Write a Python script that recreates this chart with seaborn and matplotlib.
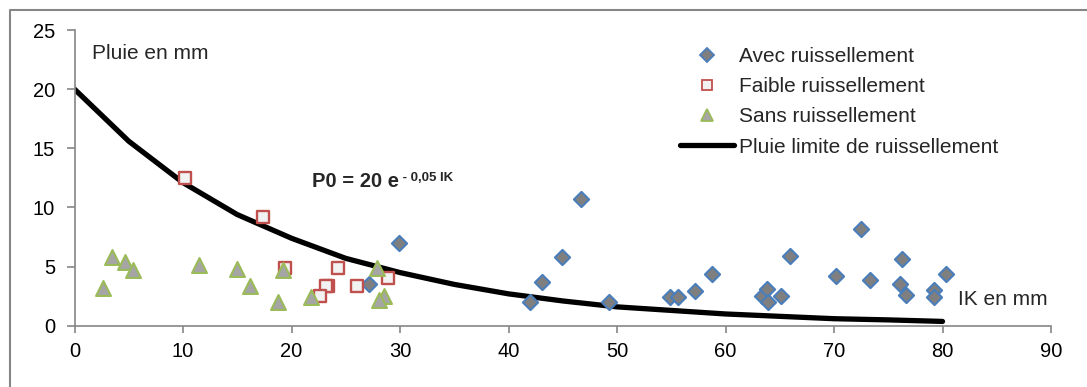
import matplotlib
matplotlib.use("Agg")
import matplotlib.pyplot as plt
from matplotlib.lines import Line2D
import numpy as np
import pandas as pd
import seaborn as sns

# --- data ---
avec_ik = [27.1, 29.9, 42.0, 43.1, 44.9, 46.7, 49.3, 54.9, 55.6, 57.2, 58.8,
           63.4, 63.8, 63.9, 65.1, 65.9, 70.2, 72.5, 73.3, 76.3, 76.1, 76.6,
           79.2, 79.2, 80.3]
avec_pluie = [3.5, 7.0, 2.0, 3.7, 5.8, 10.7, 2.0, 2.4, 2.4, 2.9, 4.4,
              2.5, 3.1, 2.0, 2.5, 5.9, 4.2, 8.2, 3.9, 5.65, 3.5, 2.6,
              3.0, 2.4, 4.4]

faible_ik = [10.2, 17.4, 19.4, 24.3, 23.4, 23.2, 22.6, 26.0, 28.9]
faible_pluie = [12.5, 9.2, 4.9, 4.9, 3.4, 3.4, 2.5, 3.4, 4.0]

sans_ik = [2.6, 3.5, 4.7, 5.4, 11.5, 15.0, 16.2, 19.2, 18.8, 21.8, 27.9, 28.5, 28.1]
sans_pluie = [3.2, 5.8, 5.4, 4.7, 5.1, 4.8, 3.4, 4.7, 2.0, 2.4, 4.9, 2.5, 2.2]

limite_ik = [0, 5, 10, 15, 20, 25, 30, 35, 40, 45, 50, 55, 60, 65, 70, 75, 80]
limite_pluie = [20.0, 15.6, 12.1, 9.4, 7.4, 5.7, 4.5, 3.5, 2.7, 2.1, 1.6,
                1.3, 1.0, 0.8, 0.6, 0.5, 0.37]

labels = ["Avec ruissellement", "Faible ruissellement", "Sans ruissellement",
          "Pluie limite de ruissellement"]

# --- style ---
sns.set_style("ticks")
plt.rcParams['font.family'] = ['Liberation Sans', 'DejaVu Sans']
grey = "#868686"

W, H = 1087, 387
fig = plt.figure(figsize=(W / 100, H / 100), dpi=100)
ax = fig.add_axes([74.5 / W, 61.2 / H, (1051 - 74.5) / W, (325.8 - 30) / H])

df_lim = pd.DataFrame({"ik": limite_ik, "p": limite_pluie})
sns.lineplot(data=df_lim, x="ik", y="p", color="black", linewidth=3.8,
             ax=ax, zorder=2, solid_capstyle="round")

sns.scatterplot(x=avec_ik, y=avec_pluie, marker="D", s=60, color="#7f7f7f",
                edgecolor="#4a7ebb", linewidth=1.5, ax=ax, zorder=3)
sns.scatterplot(x=faible_ik, y=faible_pluie, marker="s", s=70, color="#f2f2f2",
                edgecolor="#c0504d", linewidth=1.7, ax=ax, zorder=3)
sns.scatterplot(x=sans_ik, y=sans_pluie, marker="^", s=115, color="#a5a5a5",
                edgecolor="#9bbb59", linewidth=1.5, ax=ax, zorder=3)

ax.set_xlim(0, 90)
ax.set_ylim(0, 25)
ax.set_xticks(range(0, 91, 10))
ax.set_yticks(range(0, 26, 5))
ax.set_xlabel("")
ax.set_ylabel("")
sns.despine(ax=ax)
for s in ["left", "bottom"]:
    ax.spines[s].set_color(grey)
    ax.spines[s].set_linewidth(1.2)
ax.tick_params(axis="x", colors=grey, labelcolor="black", length=5, width=1.2,
               labelsize=14.5, pad=7)
ax.tick_params(axis="y", colors=grey, labelcolor="black", length=6, width=1.2,
               labelsize=14.5, pad=8)

# axis captions and formula
ax.text(1.6, 22.55, "Pluie en mm", fontsize=15)
ax.text(81.4, 1.76, "IK en mm", fontsize=15)
t = ax.text(21.9, 11.7, "P0 = 20 e", fontsize=14.5, fontweight="bold")
ax.annotate(" - 0,05 IK", xy=(1, 1.0), xycoords=t, va="top", ha="left",
            fontsize=9.5, fontweight="bold")

# legend
handles = [
    Line2D([], [], linestyle="none", marker="D", markersize=7,
           markerfacecolor="#7f7f7f", markeredgecolor="#4a7ebb", markeredgewidth=1.3),
    Line2D([], [], linestyle="none", marker="s", markersize=7.5,
           markerfacecolor="#f2f2f2", markeredgecolor="#c0504d", markeredgewidth=1.3),
    Line2D([], [], linestyle="none", marker="^", markersize=8,
           markerfacecolor="#a5a5a5", markeredgecolor="#9bbb59", markeredgewidth=1.3),
    Line2D([], [], color="black", linewidth=3.8, solid_capstyle="round"),
]
fig.legend(handles, labels, loc="upper left",
           bbox_to_anchor=(680 / W, 1 - 47 / H), frameon=False, fontsize=15,
           handlelength=2.6, handletextpad=0.25, borderpad=0, borderaxespad=0,
           labelspacing=0.54)

# outer chart frame
fig.add_artist(Line2D([10 / W, 10 / W, 1], [0, 1 - 10 / H, 1 - 10 / H],
                      color=grey, linewidth=1.5, transform=fig.transFigure))

fig.savefig("out.png", dpi=100)
